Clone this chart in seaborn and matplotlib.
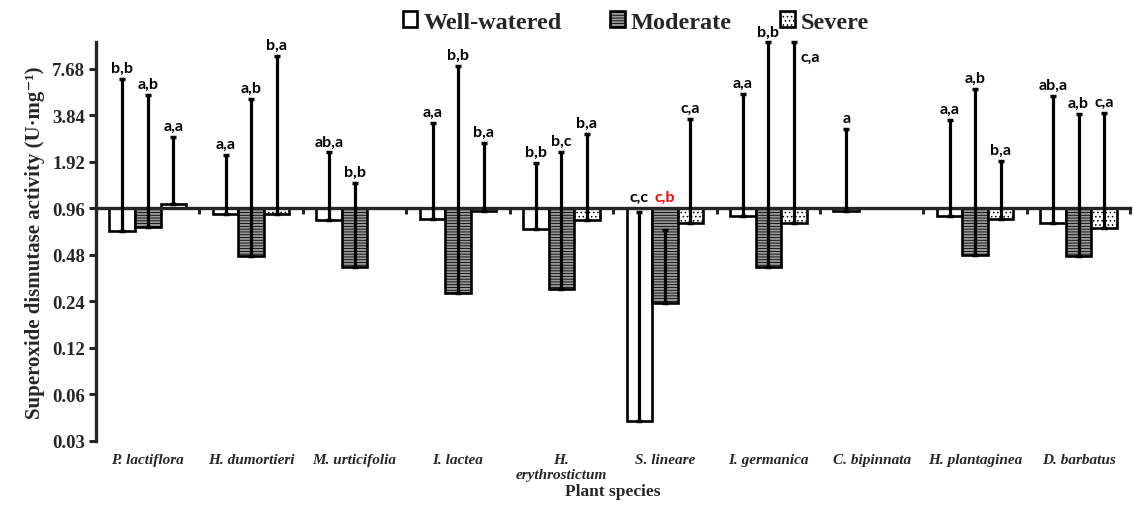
import numpy as np
import pandas as pd
import seaborn as sns
import matplotlib
matplotlib.use("Agg")
from matplotlib import pyplot as plt

species = ["P. lactiflora", "H. dumortieri", "M. urticifolia", "I. lactea",
           "H.\nerythrostictum", "S. lineare", "I. germanica", "C. bipinnata",
           "H. plantaginea", "D. barbatus"]
levels = ["Well-watered", "Moderate", "Severe"]
nan = np.nan

# bar values (U mg-1)
ww = [0.68, 0.88, 0.81, 0.82, 0.71, 0.040, 0.86, 0.93, 0.86, 0.77]
moderate = [0.73, 0.47, 0.40, 0.27, 0.29, 0.235, 0.40, nan, 0.48, 0.475]
severe = [1.03, 0.88, nan, 0.93, 0.81, 0.77, 0.77, nan, 0.82, 0.72]
# upper end of the error bars
ww_top = [6.6, 2.13, 2.21, 3.42, 1.90, 0.91, 5.28, 3.12, 3.58, 5.13]
moderate_top = [5.2, 4.9, 1.41, 8.0, 2.24, 0.70, 11.4, nan, 5.67, 3.92]
severe_top = [2.8, 9.3, nan, 2.53, 2.93, 3.66, 11.5, nan, 1.96, 4.0]
# significance letters
ww_letters = ["b,b", "a,a", "ab,a", "a,a", "b,b", "c,c", "a,a", "a", "a,a", "ab,a"]
moderate_letters = ["a,b", "a,b", "b,b", "b,b", "b,c", "c,b", "b,b", "", "a,b", "a,b"]
severe_letters = ["a,a", "b,a", "", "b,a", "b,a", "c,a", "c,a", "", "b,a", "c,a"]

ytick_labels = ["0.03", "0.06", "0.12", "0.24", "0.48", "0.96", "1.92", "3.84", "7.68"]
base = 0.96

values = {"Well-watered": ww, "Moderate": moderate, "Severe": severe}
tops = {"Well-watered": ww_top, "Moderate": moderate_top, "Severe": severe_top}
letters = {"Well-watered": ww_letters, "Moderate": moderate_letters, "Severe": severe_letters}

rows = []
for lev in levels:
    for sp, v in zip(species, values[lev]):
        rows.append({"species": sp, "condition": lev, "sod": v})
df = pd.DataFrame(rows)
df["log2"] = np.log2(df["sod"] / base)  # axis is log2 with 0.96 as baseline
df = df.dropna()

sns.set_theme(style="white")
plt.rcParams["hatch.linewidth"] = 0.6
serif = ["Liberation Serif", "DejaVu Serif"]
plt.rcParams["font.family"] = serif

fig = plt.figure(figsize=(11.34, 5.06), dpi=100)
ax = fig.add_axes([0.0847, 0.127, 0.912, 0.788])

pal = {"Well-watered": "white", "Moderate": "#9a9a9a", "Severe": "white"}
sns.barplot(data=df, x="species", y="log2", hue="condition", order=species,
            hue_order=levels, palette=pal, width=0.74, errorbar=None,
            edgecolor="black", linewidth=1.9, legend=False, ax=ax)

hatches = {"Well-watered": "", "Moderate": "------", "Severe": "...."}
label_shift = {("Severe", 6): (12, -16)}
for lev, cont in zip(levels, ax.containers):
    for bar in cont:
        bar.set_hatch(hatches[lev])
        x = bar.get_x() + bar.get_width() / 2
        i = int(round(x))
        h = bar.get_height()
        t = np.log2(tops[lev][i] / base)
        ax.errorbar(x, h, yerr=[[0], [t - h]], color="black", elinewidth=2.3,
                    capsize=2.5, capthick=2.5, clip_on=False, zorder=5)
        dx, dy = label_shift.get((lev, i), (0, 3))
        ax.annotate(letters[lev][i], (x, max(t, 0)), xytext=(dx, dy),
                    textcoords="offset points", ha="center", va="bottom",
                    fontsize=11.5, fontweight="bold", family=["Lato", "DejaVu Sans"],
                    color="red" if (lev == "Moderate" and i == 5) else "black",
                    annotation_clip=False)

ax.set_xlim(-0.5, 9.5)
ax.set_ylim(-5, 3.58)
ax.set_yticks(range(-5, 4), labels=ytick_labels)
ax.tick_params(axis="y", direction="out", length=5, width=2.2, left=True,
               labelsize=13.5, pad=3)
for lab in ax.get_yticklabels():
    lab.set_fontweight("bold")

# horizontal axis drawn through the 0.96 baseline, ticks at group borders
ax.spines["bottom"].set_position(("data", 0))
ax.spines["bottom"].set_linewidth(2.4)
ax.spines["left"].set_linewidth(2.4)
ax.spines["top"].set_visible(False)
ax.spines["right"].set_visible(False)
ax.set_xticks(np.arange(-0.5, 10, 1), labels=[])
ax.tick_params(axis="x", direction="out", length=4, width=2.2, bottom=True)
ax.set_xlabel("")
ax.set_ylabel("Superoxide dismutase activity (U\u00b7mg\u207b\u00b9)",
              fontsize=15, fontweight="bold", labelpad=5)

sec = ax.secondary_xaxis("bottom")
sec.set_xticks(range(len(species)), labels=species)
sec.spines["bottom"].set_visible(False)
sec.tick_params(length=0, pad=9)
for lab in sec.get_xticklabels():
    lab.set_fontstyle("italic")
    lab.set_fontweight("bold")
    lab.set_fontsize(11)
sec.set_xlabel("Plant species", fontsize=12.5, fontweight="bold", labelpad=1)

ax.legend(ax.containers, levels, loc="center", bbox_to_anchor=(0.522, 1.05),
          ncol=3, frameon=False, prop={"family": serif, "weight": "bold", "size": 17.5},
          handlelength=0.6, handleheight=0.6, handletextpad=0.25,
          columnspacing=2.0, borderpad=0)

fig.savefig("out.png", dpi=100)
